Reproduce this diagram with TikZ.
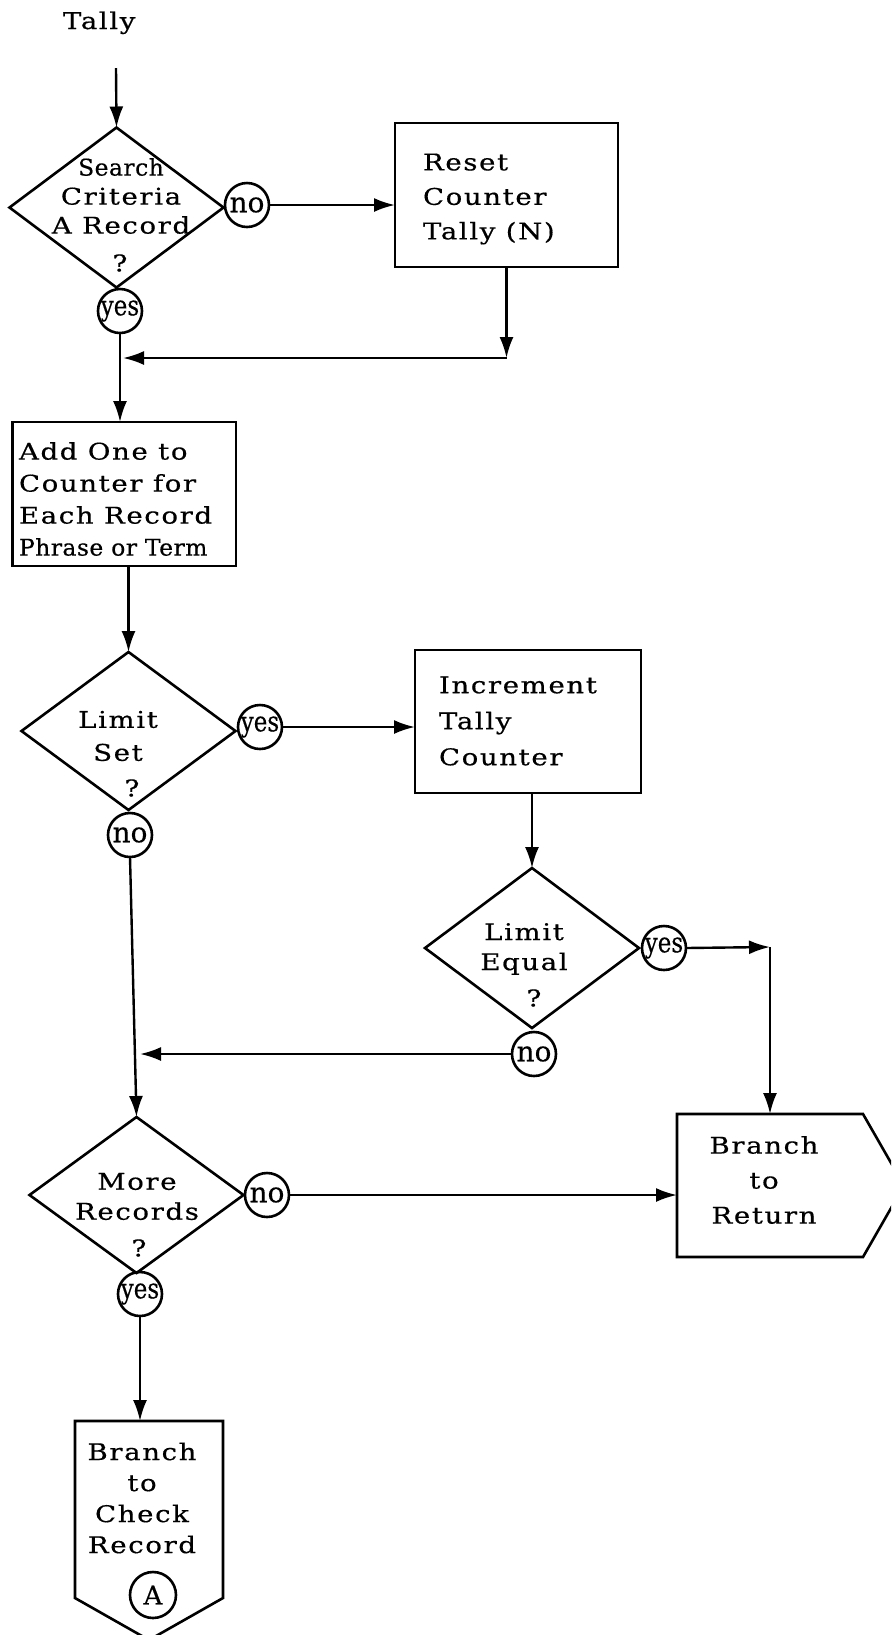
\documentclass[tikz,border=0pt]{standalone}
\usepackage{fontspec}
\usepackage{graphicx}
\setmainfont{DejaVu Serif}
\newfontfamily\fcspaced{DejaVu Serif}[FakeStretch=1.2, LetterSpace=7, FakeBold=0.5]
\newfontfamily\fctight{DejaVu Serif}[FakeStretch=1.02, LetterSpace=2, FakeBold=0.5]
\newfontfamily\fcconn{DejaVu Serif}[FakeBold=0.4]
\usetikzlibrary{shapes.geometric,arrows.meta}
\tikzset{
  every node/.style={inner sep=0pt, outer sep=0pt},
  shapeline/.style={draw, line width=1.3pt},
  decision/.style={shapeline, diamond, minimum width=107pt, minimum height=80pt},
  procbox/.style={shapeline, rectangle},
  conn/.style={shapeline, circle, minimum size=22pt, font=\fcconn\fontsize{14}{14}\selectfont},
  lbl/.style={font=\fcspaced\fontsize{11.5}{#1}\selectfont, align=center},
  lbl/.default=15,
  arr/.style={line width=1.2pt, -{Latex[length=10.5pt,width=7pt]}},
}
\newcommand{\yesw}{\scalebox{0.82}[1]{yes}}
\begin{document}
\begin{tikzpicture}[x=0.5pt,y=-0.5pt]
\useasboundingbox (0,0) rectangle (891,1635);
\clip (0,0) rectangle (891,1635);
% title
\node[lbl, anchor=base west] (title) at (63,29) {Tally};
\coordinate (start) at (116,68);
% decision 1
\node[decision] (d1) at (116.5,207.5) {};
\node[lbl=14.5] (d1t) at (121,196) {{\fctight Search}\\Criteria\\A Record};
\node[lbl] (d1q) at (120,263) {?};
\node[conn] (c1no) at (247,205) {no};
\node[conn] (c1yes) at (120,311) {\yesw};
% reset box
\node[procbox, minimum width=111.5pt, minimum height=72pt] (reset) at (506.5,195) {};
\node[lbl=17.25, align=left, anchor=west] (resett) at (423,199) {Reset\\Counter\\Tally (N)};
\coordinate (j1) at (506.5,358);
\coordinate (j1end) at (123,358);
% add one box
\node[procbox, minimum width=111.75pt, minimum height=72pt] (addone) at (124.25,494) {};
\node[lbl=16, align=left, anchor=west] (addonet) at (19,499) {Add One to\\Counter for\\Each Record\\{\fctight Phrase or Term}};
% decision 2
\node[decision, minimum height=79pt] (d2) at (128.5,731) {};
\node[lbl=16.5] (d2t) at (118,736) {Limit\\Set};
\node[lbl] (d2q) at (132,788) {?};
\node[conn] (c2yes) at (260,727) {\yesw};
\node[conn] (c2no) at (130,835) {no};
% increment box
\node[procbox, minimum width=113pt, minimum height=71.5pt] (inc) at (528,721.5) {};
\node[lbl=18, align=left, anchor=west] (inct) at (439,721) {Increment\\Tally\\Counter};
% decision 3
\node[decision] (d3) at (532,948) {};
\node[lbl] (d3t) at (524,949) {Limit\\Equal};
\node[lbl] (d3q) at (534,998) {?};
\node[conn] (c3yes) at (664,948) {\yesw};
\node[conn] (c3no) at (534,1054) {no};
\coordinate (j2) at (770,947);
\coordinate (j3) at (140,1054);
% decision 4
\node[decision, minimum height=78pt] (d4) at (136.5,1195) {};
\node[lbl] (d4t) at (137,1196.5) {More\\Records};
\node[lbl] (d4q) at (139,1248) {?};
\node[conn] (c4no) at (267,1195) {no};
\node[conn] (c4yes) at (140,1294) {\yesw};
% branch to return
\node[minimum width=93pt, minimum height=71.5pt] (btr) at (770,1185.5) {};
\draw[shapeline] (btr.north west) -- (btr.north east) -- (904,1185.5) -- (btr.south east) -- (btr.south west) -- cycle;
\node[lbl=17.5] (btrt) at (764,1180) {Branch\\to\\Return};
% branch to check record
\node[minimum width=74pt, minimum height=88.5pt] (check) at (149,1509.5) {};
\draw[shapeline] (check.north west) -- (check.north east) -- (check.south east) -- (149,1640) -- (check.south west) -- cycle;
\node[lbl=15.5] (checkt) at (142,1498) {Branch\\to\\Check\\Record};
\node[conn, minimum size=23pt, font=\fcconn\fontsize{13}{13}\selectfont] (cA) at (153,1595) {A};
% connectors
\draw[arr] (start) -- (d1.north);
\draw[arr] (c1no.east) -- (c1no.east -| reset.west);
\draw[arr] (reset.south) -- (j1);
\draw[arr] (j1) -- (j1end);
\draw[arr] (c1yes.south) -- (c1yes.south |- addone.north);
\draw[arr] (d2.north |- addone.south) -- (d2.north);
\draw[arr] (c2yes.east) -- (c2yes.east -| inc.west);
\draw[arr] (d3.north |- inc.south) -- (d3.north);
\draw[arr] (c3yes.east) -- (j2);
\draw[arr] (j2) -- (j2 |- btr.north);
\draw[arr] (c3no.west) -- (j3);
\draw[arr] (c2no.south) -- (d4.north);
\draw[arr] (c4no.east) -- (c4no.east -| btr.west);
\draw[arr] (c4yes.south) -- (c4yes.south |- check.north);
\end{tikzpicture}
\end{document}
